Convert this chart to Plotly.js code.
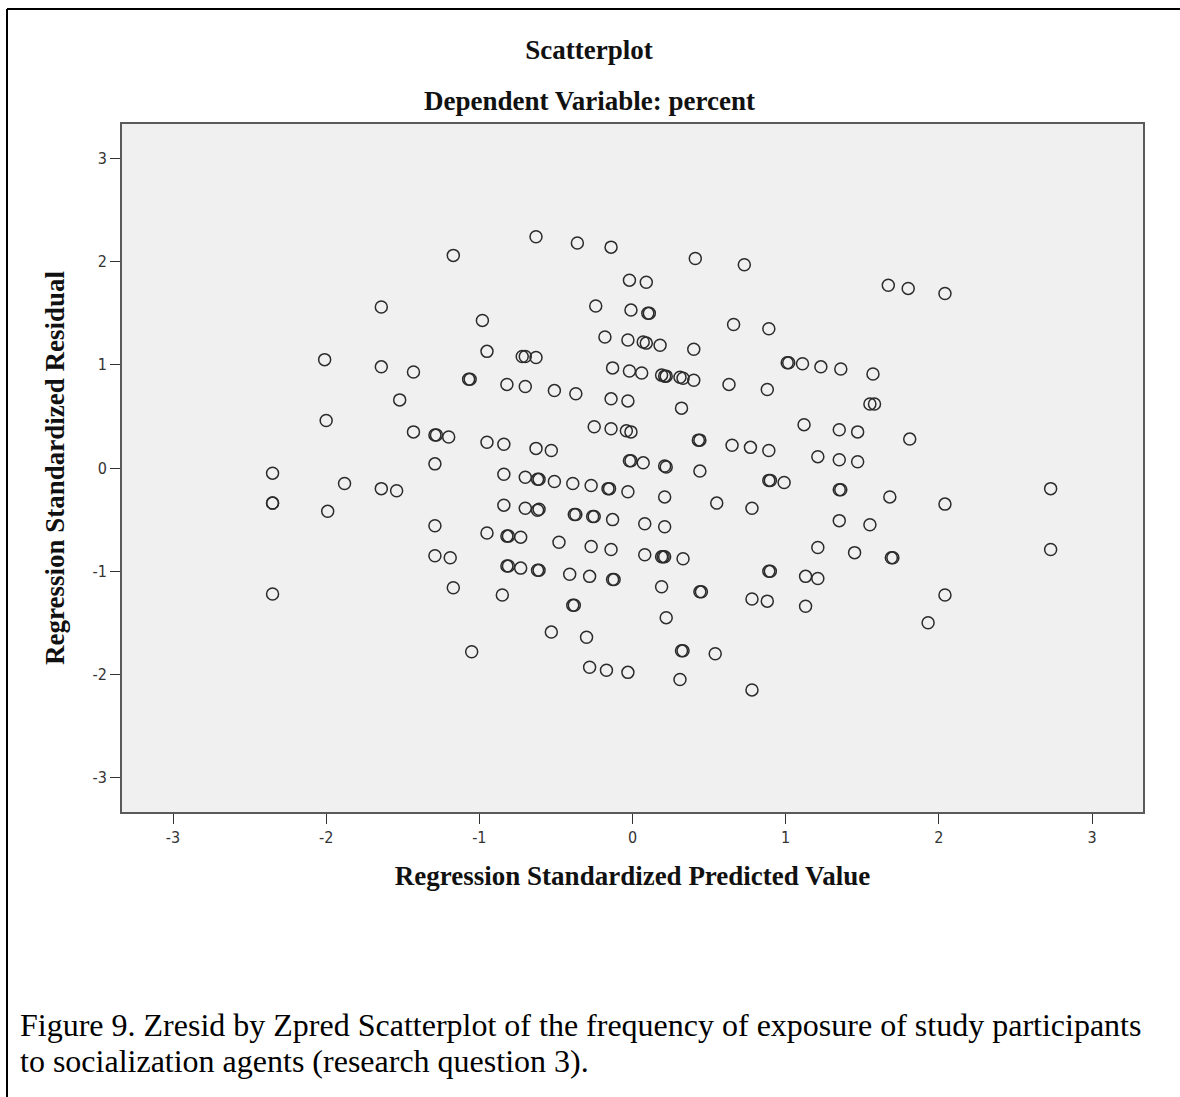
<!DOCTYPE html>
<html>
<head>
<meta charset="utf-8">
<script src="https://cdn.plot.ly/plotly-3.0.1.min.js"></script>
<style>html,body{margin:0;padding:0;background:#fff;}#chart{width:1180px;height:1097px;}</style>
</head>
<body>
<div id="chart"></div>
<script>
// Regression Standardized Predicted Value (x) and Regression Standardized Residual (y)
const predicted = [
 -0.63,-1.17,-1.64,-0.98,-0.95,-0.72,-0.70,-0.63,-2.01,-1.64,-1.43,-1.07,-1.06,-0.82,-0.70,-1.52,-2.00,-1.43,-1.29,-1.28,-1.20,-0.95,-0.84,-0.63,-1.29,
 -0.36,-0.14,0.41,0.73,-0.02,0.09,-0.24,-0.01,0.10,0.11,0.66,0.89,-0.18,-0.03,0.07,0.09,0.18,0.40,1.01,1.02,1.11,1.23,
 -0.13,-0.02,0.06,0.19,0.21,0.22,0.31,0.33,0.40,0.63,0.88,-0.51,-0.37,-0.14,-0.03,0.32,1.12,-0.25,-0.14,-0.04,-0.01,0.43,0.44,
 -0.53,0.65,0.77,0.89,1.21,-0.02,-0.01,0.07,0.21,0.22,0.44,1.67,1.80,2.04,1.36,1.57,1.55,1.58,1.35,1.47,1.81,1.35,1.47,
 -2.35,-0.84,-0.70,-0.62,-0.61,-1.88,-1.64,-1.54,-2.35,-2.35,-1.99,-0.84,-0.70,-0.62,-0.61,-1.29,-0.95,-0.82,-0.81,-0.73,-1.29,-1.19,
 -0.82,-0.81,-0.73,-0.62,-0.61,-2.35,-1.17,-0.85,-1.05,-0.51,-0.39,-0.27,-0.16,-0.15,-0.03,0.21,0.90,0.89,0.99,0.55,0.78,
 -0.38,-0.37,-0.26,-0.25,-0.13,0.08,0.21,-0.48,-0.27,-0.14,0.08,0.19,0.20,0.21,0.33,1.21,-0.41,-0.28,-0.13,-0.12,0.89,0.90,1.13,1.21,
 0.19,0.44,0.45,0.78,0.88,1.13,-0.39,-0.38,0.22,-0.53,-0.30,0.32,0.33,0.54,-0.28,-0.17,-0.03,0.31,0.78,
 1.35,1.36,1.68,2.04,2.73,1.35,1.55,1.45,1.69,1.70,2.73,2.04,1.93
];
const residual = [
 2.24,2.06,1.56,1.43,1.13,1.08,1.08,1.07,1.05,0.98,0.93,0.86,0.86,0.81,0.79,0.66,0.46,0.35,0.32,0.32,0.30,0.25,0.23,0.19,0.04,
 2.18,2.14,2.03,1.97,1.82,1.80,1.57,1.53,1.50,1.50,1.39,1.35,1.27,1.24,1.22,1.21,1.19,1.15,1.02,1.02,1.01,0.98,
 0.97,0.94,0.92,0.90,0.89,0.89,0.88,0.87,0.85,0.81,0.76,0.75,0.72,0.67,0.65,0.58,0.42,0.40,0.38,0.36,0.35,0.27,0.27,
 0.17,0.22,0.20,0.17,0.11,0.07,0.07,0.05,0.02,0.01,-0.03,1.77,1.74,1.69,0.96,0.91,0.62,0.62,0.37,0.35,0.28,0.08,0.06,
 -0.05,-0.06,-0.09,-0.11,-0.11,-0.15,-0.20,-0.22,-0.34,-0.34,-0.42,-0.36,-0.39,-0.41,-0.40,-0.56,-0.63,-0.66,-0.66,-0.67,-0.85,-0.87,
 -0.95,-0.95,-0.97,-0.99,-0.99,-1.22,-1.16,-1.23,-1.78,-0.13,-0.15,-0.17,-0.20,-0.20,-0.23,-0.28,-0.12,-0.12,-0.14,-0.34,-0.39,
 -0.45,-0.45,-0.47,-0.47,-0.50,-0.54,-0.57,-0.72,-0.76,-0.79,-0.84,-0.86,-0.86,-0.86,-0.88,-0.77,-1.03,-1.05,-1.08,-1.08,-1.00,-1.00,-1.05,-1.07,
 -1.15,-1.20,-1.20,-1.27,-1.29,-1.34,-1.33,-1.33,-1.45,-1.59,-1.64,-1.77,-1.77,-1.80,-1.93,-1.96,-1.98,-2.05,-2.15,
 -0.21,-0.21,-0.28,-0.35,-0.20,-0.51,-0.55,-0.82,-0.87,-0.87,-0.79,-1.23,-1.50
];
const tickValues = [-3,-2,-1,0,1,2,3];
const tickLabels = ['-3','-2','-1','0','1','2','3'];
const chartTitle = 'Scatterplot';
const chartSubtitle = 'Dependent Variable: percent';
const xTitle = 'Regression Standardized Predicted Value';
const yTitle = 'Regression Standardized Residual';
const captionLines = [
 'Figure 9. Zresid by Zpred Scatterplot of the frequency of exposure of study participants',
 'to socialization agents (research question 3).'
];

const W = 1180, H = 1097;
const M = {l:122, r:37, t:124, b:285};
const pw = W - M.l - M.r, ph = H - M.t - M.b;
const px = x => (x - M.l) / pw;
const py = y => (H - M.b - y) / ph;

const serif = 'Liberation Serif, Times New Roman, serif';
const sans = 'DejaVu Sans Condensed, Liberation Sans Narrow, Liberation Sans, Arial, sans-serif';

const trace = {
  type: 'scatter', mode: 'markers',
  x: predicted, y: residual,
  marker: {symbol: 'circle-open', size: 12, color: '#2b2b2b', line: {width: 1.5, color: '#2b2b2b'}},
  hoverinfo: 'x+y', showlegend: false
};

const axisCommon = {
  range: [-3.333, 3.333], tickvals: tickValues, ticktext: tickLabels,
  ticks: 'outside', ticklen: 10, tickwidth: 1, tickcolor: '#333',
  showgrid: false, zeroline: false,
  showline: true, mirror: true, linecolor: '#5a5a5a', linewidth: 2,
  tickfont: {family: sans, size: 16, color: '#333'},
  fixedrange: true
};

const layout = {
  width: W, height: H,
  margin: M,
  paper_bgcolor: '#ffffff', plot_bgcolor: '#f0f0f0',
  title: {text: '<b>' + chartTitle + '</b>', x: 589 / W, xref: 'container', xanchor: 'center',
          y: 1 - 50 / H, yref: 'container', yanchor: 'middle',
          font: {family: serif, size: 27, color: '#111'}},
  xaxis: Object.assign({}, axisCommon, {
    title: {text: '<b>' + xTitle + '</b>', font: {family: serif, size: 27, color: '#111'}, standoff: 20}
  }),
  yaxis: Object.assign({}, axisCommon, {
    title: {text: '<b>' + yTitle + '</b>', font: {family: serif, size: 27, color: '#111'}, standoff: 20}
  }),
  annotations: [
    {text: '<b>' + chartSubtitle + '</b>', xref: 'paper', yref: 'paper', x: px(589), y: py(101),
     xanchor: 'center', yanchor: 'middle', showarrow: false, font: {family: serif, size: 27, color: '#111'}},
    {text: captionLines[0], xref: 'paper', yref: 'paper', x: px(18), y: py(1025),
     xanchor: 'left', yanchor: 'middle', showarrow: false, font: {family: serif, size: 32, color: '#000'}},
    {text: captionLines[1], xref: 'paper', yref: 'paper', x: px(18), y: py(1061),
     xanchor: 'left', yanchor: 'middle', showarrow: false, font: {family: serif, size: 32, color: '#000'}}
  ],
  shapes: [
    {type: 'line', xref: 'paper', yref: 'paper', x0: px(7), x1: px(1180), y0: py(9), y1: py(9), line: {color: '#000', width: 2}},
    {type: 'line', xref: 'paper', yref: 'paper', x0: px(7), x1: px(7), y0: py(9), y1: py(1097), line: {color: '#000', width: 2}}
  ]
};

Plotly.newPlot('chart', [trace], layout, {displayModeBar: false, staticPlot: true});
</script>
</body>
</html>
